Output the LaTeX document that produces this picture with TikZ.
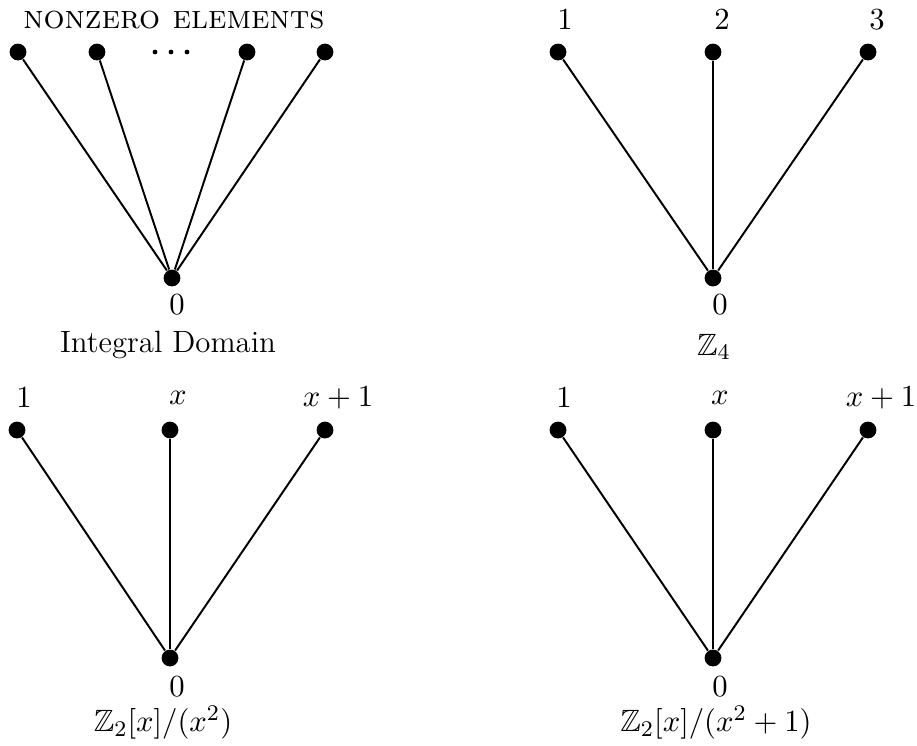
\documentclass[tikz,border=0pt]{standalone}
\usepackage{amssymb}
\begin{document}
\begin{tikzpicture}[x=0.3571pt,y=-0.3571pt,
  vtx/.style={circle,fill=black,inner sep=0pt,minimum size=6pt},
  sdot/.style={circle,fill=black,inner sep=0pt,minimum size=1.7pt},
  edge/.style={line width=0.7pt},
  lbl/.style={inner sep=0pt,font=\fontsize{11}{13}\selectfont}]
\useasboundingbox (0,0) rectangle (917,745);
% Integral domain
\node[vtx] (a1) at (18,52) {};
\node[vtx] (a2) at (97,52) {};
\node[vtx] (a3) at (247,52) {};
\node[vtx] (a4) at (325,52) {};
\node[vtx] (a0) at (172,278) {};
\node[sdot] (e1) at (155,52) {};
\node[sdot] (e2) at (171,52) {};
\node[sdot] (e3) at (187,52) {};
\foreach \n in {a1,a2,a3,a4} \draw[edge] (\n) -- (a0);
\node[inner sep=0pt,font=\fontsize{11.8}{14}\selectfont] (an) at (174,20) {\textsc{nonzero elements}};
\node[lbl] (az) at (177,305) {$0$};
\node[lbl] (ac) at (168,345) {Integral Domain};
% Z4
\node[vtx] (b1) at (558,52) {};
\node[vtx] (b2) at (713,52) {};
\node[vtx] (b3) at (868,52) {};
\node[vtx] (b0) at (713,278) {};
\foreach \n in {b1,b2,b3} \draw[edge] (\n) -- (b0);
\node[lbl] (bl1) at (565,20) {$1$};
\node[lbl] (bl2) at (722,20) {$2$};
\node[lbl] (bl3) at (877,20) {$3$};
\node[lbl] (bz) at (720,305) {$0$};
\node[lbl] (bc) at (714,347) {$\mathbb{Z}_4$};
% Z2[x]/(x^2)
\node[vtx] (c1) at (17,430) {};
\node[vtx] (c2) at (170,430) {};
\node[vtx] (c3) at (325,430) {};
\node[vtx] (c0) at (170,658) {};
\foreach \n in {c1,c2,c3} \draw[edge] (\n) -- (c0);
\node[lbl] (cl1) at (24,398) {$1$};
\node[lbl] (cl2) at (178,398) {$x$};
\node[lbl] (cl3) at (338,398) {$x+1$};
\node[lbl] (cz) at (177,687) {$0$};
\node[lbl] (cc) at (163,723) {$\mathbb{Z}_2[x]/(x^2)$};
% Z2[x]/(x^2+1)
\node[vtx] (d1) at (558,430) {};
\node[vtx] (d2) at (713,430) {};
\node[vtx] (d3) at (868,430) {};
\node[vtx] (d0) at (713,658) {};
\foreach \n in {d1,d2,d3} \draw[edge] (\n) -- (d0);
\node[lbl] (dl1) at (564,398) {$1$};
\node[lbl] (dl2) at (720,398) {$x$};
\node[lbl] (dl3) at (881,398) {$x+1$};
\node[lbl] (dz) at (720,687) {$0$};
\node[lbl] (dc) at (716,723) {$\mathbb{Z}_2[x]/(x^2+1)$};
\end{tikzpicture}
\end{document}
